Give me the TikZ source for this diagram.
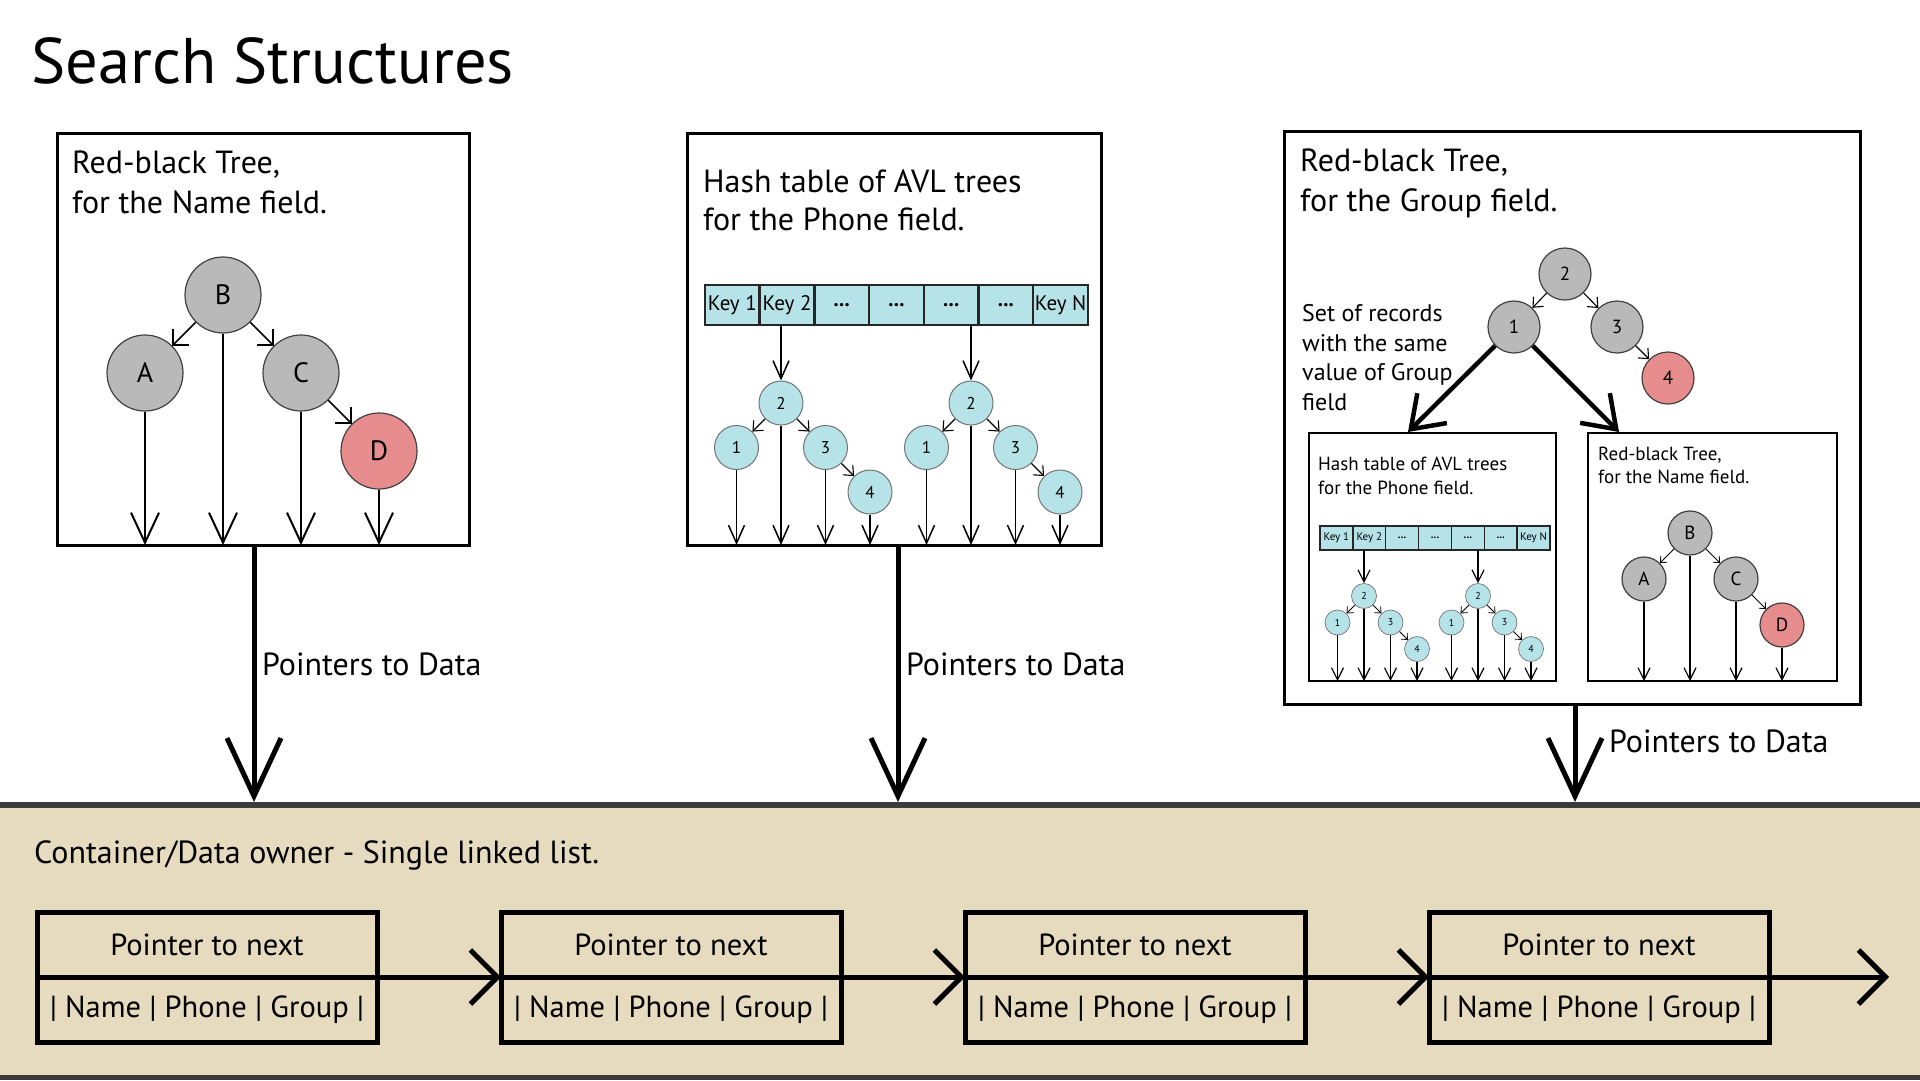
\documentclass[tikz,border=0pt]{standalone}
\usepackage{fontspec}
\setmainfont{PT Sans}
\usetikzlibrary{positioning,calc,arrows.meta}

\definecolor{rbgray}{HTML}{B9B9B9}
\definecolor{rbred}{HTML}{E88D8D}
\definecolor{avlcyan}{HTML}{B6E3E8}
\definecolor{bandfill}{HTML}{E6DBBE}
\definecolor{bandline}{HTML}{3B3B3B}

\tikzset{
  panel/.style={draw, line width=3pt, inner sep=0, outer sep=0},
  subpanel/.style={draw, line width=2pt, inner sep=0, outer sep=0},
  caption/.style={anchor=base west, align=left, inner sep=0},
  rbbig/.style={circle, draw=black!75, line width=1.2pt, fill=rbgray, minimum size=76pt, inner sep=0, font=\fontsize{28}{28}\selectfont},
  rbmid/.style={rbbig, minimum size=52pt, font=\fontsize{19}{19}\selectfont},
  rbsmall/.style={rbbig, minimum size=44pt, font=\fontsize{19}{19}\selectfont},
  avlbig/.style={circle, draw=black!55, line width=1pt, fill=avlcyan, minimum size=44pt, inner sep=0, font=\fontsize{17}{17}\selectfont},
  avlsmall/.style={avlbig, minimum size=25pt, line width=0.7pt, font=\fontsize{10}{10}\selectfont},
  edgebig/.style={line width=1.5pt, -{Straight Barb[length=11pt,width=22pt]}},
  edgemid/.style={line width=1.1pt, -{Straight Barb[length=8pt,width=14pt]}},
  edgesmall/.style={line width=0.8pt, -{Straight Barb[length=5pt,width=9pt]}},
  ptrbig/.style={line width=2pt, -{Straight Barb[length=30pt,width=28pt]}},
  ptrmid/.style={line width=1.5pt, -{Straight Barb[length=18pt,width=16pt]}},
  ptrsmall/.style={line width=1.2pt, -{Straight Barb[length=12pt,width=12pt]}},
  keycell/.style={draw=black!85, line width=2.5pt, fill=avlcyan, minimum height=40pt, inner sep=0, outer sep=0, font=\fontsize{21}{21}\selectfont},
  keysmall/.style={keycell, line width=1.5pt, minimum height=24pt, font=\fontsize{11}{11}\selectfont},
  dataptr/.style={line width=5pt, -{Straight Barb[length=58pt,width=54pt]}},
  setptr/.style={line width=4.5pt, -{Straight Barb[length=30pt,width=42pt]}},
  ptrlabel/.style={anchor=base west, inner sep=0, font=\fontsize{32}{32}\selectfont},
  record/.style={draw, line width=5pt, minimum width=340pt, minimum height=65pt, inner sep=0, outer sep=0, font=\fontsize{30.5}{30.5}\selectfont},
  nextptr/.style={line width=5pt, -{Straight Barb[length=27pt,width=54pt]}}
}

% red-black tree: prefix, x, y, unit, node style, edge style, pointer style, box
\newcommand{\rbtree}[8]{%
  \node[#5] (#1b) at (#2,#3) {B};
  \node[#5] (#1a) at ($(#1b)+(-#4,#4)$) {A};
  \node[#5] (#1c) at ($(#1b)+(#4,#4)$) {C};
  \node[#5, fill=rbred] (#1d) at ($(#1b)+(2*#4,2*#4)$) {D};
  \draw[#6] (#1b) -- (#1a);
  \draw[#6] (#1b) -- (#1c);
  \draw[#6] (#1c) -- (#1d);
  \foreach \n in {a,b,c,d}
    \draw[#7] (#1\n) -- (#1\n |- #8.south);
}

% AVL tree, same arguments
\newcommand{\avltree}[8]{%
  \node[#5] (#1-2) at (#2,#3) {2};
  \node[#5] (#1-1) at ($(#1-2)+(-#4,#4)$) {1};
  \node[#5] (#1-3) at ($(#1-2)+(#4,#4)$) {3};
  \node[#5] (#1-4) at ($(#1-2)+(2*#4,2*#4)$) {4};
  \draw[#6] (#1-2) -- (#1-1);
  \draw[#6] (#1-2) -- (#1-3);
  \draw[#6] (#1-3) -- (#1-4);
  \foreach \n in {1,2,3,4}
    \draw[#7] (#1-\n) -- (#1-\n |- #8.south);
}

% hash table row: prefix, left x, centre y, cell width, cell style
\newcommand{\hashrow}[5]{%
  \foreach \t [count=\i] in {Key 1,Key 2,\dotz,\dotz,\dotz,\dotz,Key N}
    \node[#5, minimum width=#4] (#1\i) at ({#2+(\i-0.5)*#4},#3) {\t};
}
\newcommand{\dotz}{\textbf{...}}

\begin{document}
\begin{tikzpicture}[x=1pt,y=-1pt]
\useasboundingbox (0,0) rectangle (1920,1080);

\node[anchor=base west, inner sep=0, font=\fontsize{64.5}{64.5}\selectfont] (title) at (31,83) {Search Structures};

% the three search structures
\node[panel, minimum width=412pt, minimum height=412pt] (box1) at (263,339) {};
\node[panel, minimum width=414pt, minimum height=412pt] (box2) at (894,339) {};
\node[panel, minimum width=576pt, minimum height=573pt] (box3) at (1572,417.5) {};

% Name field
\node[caption, font=\fontsize{32}{40}\selectfont] (cap1) at (72,213) {Red-black Tree,\\for the Name field.};
\rbtree{n}{223}{295}{78}{rbbig}{edgebig}{ptrbig}{box1}

% Phone field
\node[caption, font=\fontsize{32}{38}\selectfont] (cap2) at (703,230) {Hash table of AVL trees\\for the Phone field.};
\hashrow{k}{705}{305}{54.7pt}{keycell}
\avltree{p}{781}{403}{44.5}{avlbig}{edgemid}{ptrmid}{box2}
\avltree{q}{971}{403}{44.5}{avlbig}{edgemid}{ptrmid}{box2}
\draw[ptrmid] (p-2 |- k2.south) -- (p-2);
\draw[ptrmid] (q-2 |- k5.south) -- (q-2);

% Group field
\node[caption, font=\fontsize{32}{40}\selectfont] (cap3) at (1300,211) {Red-black Tree,\\for the Group field.};
\node[rbmid] (g2) at (1565,274) {2};
\node[rbmid] (g1) at (1514,327) {1};
\node[rbmid] (g3) at (1617,327) {3};
\node[rbmid, fill=rbred] (g4) at (1668,378) {4};
\draw[edgemid] (g2) -- (g1);
\draw[edgemid] (g2) -- (g3);
\draw[edgemid] (g3) -- (g4);
\node[caption, font=\fontsize{24}{29.5}\selectfont] (setcap) at (1302,410) {Set of records\\with the same\\value of Group\\field};

\node[subpanel, minimum width=247pt, minimum height=248pt] (subA) at (1432.5,557) {};
\node[subpanel, minimum width=249pt, minimum height=248pt] (subB) at (1712.5,557) {};
\coordinate (tipA) at (1408,432);
\coordinate (tipB) at (1619,432);
\draw[setptr] (g1) -- (tipA);
\draw[setptr] (g1) -- (tipB);

\node[caption, font=\fontsize{19}{24}\selectfont] (capA) at (1318,494) {Hash table of AVL trees\\for the Phone field.};
\hashrow{s}{1320}{538}{32.86pt}{keysmall}
\avltree{u}{1364}{596}{26.5}{avlsmall}{edgesmall}{ptrsmall}{subA}
\avltree{v}{1478}{596}{26.5}{avlsmall}{edgesmall}{ptrsmall}{subA}
\draw[ptrsmall] (u-2 |- s2.south) -- (u-2);
\draw[ptrsmall] (v-2 |- s5.south) -- (v-2);

\node[caption, font=\fontsize{19}{23}\selectfont] (capB) at (1598,483) {Red-black Tree,\\for the Name field.};
\rbtree{m}{1690}{533}{46}{rbsmall}{edgesmall}{ptrsmall}{subB}

% container band
\fill[bandfill] (0,802) rectangle (1920,1080);
\draw[bandline, line width=6pt] (0,805) -- (1920,805);
\draw[bandline, line width=5pt] (0,1077.5) -- (1920,1077.5);

% pointers to data
\coordinate (data1) at (254,802);
\coordinate (data2) at (898,802);
\coordinate (data3) at (1575,802);
\draw[dataptr] (data1 |- box1.south) -- (data1);
\draw[dataptr] (data2 |- box2.south) -- (data2);
\draw[dataptr] (data3 |- box3.south) -- (data3);
\node[ptrlabel] (lbl1) at (262,675) {Pointers to Data};
\node[ptrlabel] (lbl2) at (906,675) {Pointers to Data};
\node[ptrlabel] (lbl3) at (1609,752) {Pointers to Data};

\node[anchor=base west, inner sep=0, font=\fontsize{32}{32}\selectfont] (owner) at (34,863) {Container/Data owner - Single linked list.};

% linked list
\foreach \i in {1,...,4} {
  \node[record] (rec\i) at ({207+(\i-1)*464},944.5) {Pointer to next};
  \node[record, below=0pt of rec\i] (fields\i) {| Name | Phone | Group |};
}
\foreach \i [evaluate=\i as \j using int(\i+1)] in {1,2,3}
  \draw[nextptr] (rec\i.south east) -- (rec\j.south west);
\coordinate (tail) at (1889,977);
\draw[nextptr] (rec4.south east) -- (tail);
\end{tikzpicture}
\end{document}
